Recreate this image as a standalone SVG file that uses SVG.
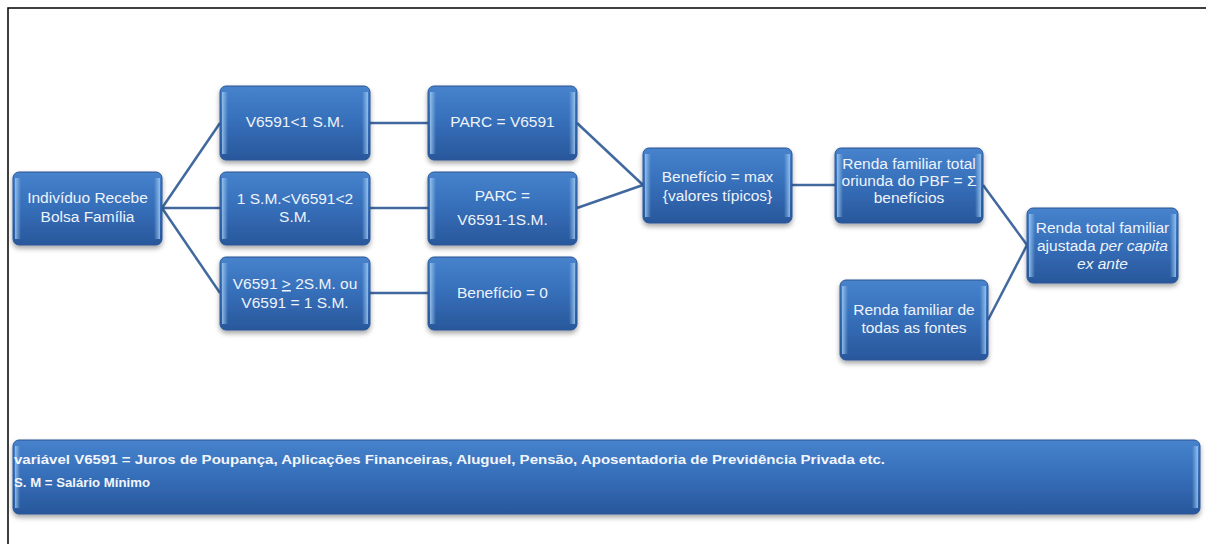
<svg xmlns="http://www.w3.org/2000/svg" width="1206" height="544" viewBox="0 0 1206 544">
<defs>
<linearGradient id="gv" x1="0" y1="0" x2="0" y2="1">
<stop offset="0" stop-color="#4783cc"/>
<stop offset="0.45" stop-color="#3770bb"/>
<stop offset="1" stop-color="#28579b"/>
</linearGradient>
<linearGradient id="el" x1="0" y1="0" x2="1" y2="0">
<stop offset="0" stop-color="#9fcaf2" stop-opacity="0.85"/>
<stop offset="1" stop-color="#9fcaf2" stop-opacity="0"/>
</linearGradient>
<linearGradient id="er" x1="1" y1="0" x2="0" y2="0">
<stop offset="0" stop-color="#9fcaf2" stop-opacity="0.85"/>
<stop offset="1" stop-color="#9fcaf2" stop-opacity="0"/>
</linearGradient>
<filter id="sh" x="-10%" y="-10%" width="120%" height="130%">
<feDropShadow dx="0" dy="3" stdDeviation="2.5" flood-color="#000" flood-opacity="0.35"/>
</filter>
<style>
.box{fill:url(#gv);stroke:#2a5594;stroke-width:1;filter:url(#sh)}
.bl{fill:url(#el)}
.br{fill:url(#er)}
.t{font-family:"Liberation Sans",Arial,sans-serif;font-size:15.5px;fill:#eef3fb;text-anchor:middle}
.b{font-family:"Liberation Sans",Arial,sans-serif;font-size:13px;font-weight:bold;fill:#f2f6fc}
.con line{stroke:#41699f;stroke-width:2.5}
</style>
</defs>
<rect width="1206" height="544" fill="#ffffff"/>
<path d="M8,544 V8 H1206" fill="none" stroke="#000" stroke-width="1.5"/>

<g class="con">
<line x1="162" y1="208" x2="220" y2="123"/>
<line x1="162" y1="208" x2="220" y2="208"/>
<line x1="162" y1="208" x2="220" y2="293"/>
<line x1="370" y1="123" x2="428" y2="123"/>
<line x1="370" y1="208" x2="428" y2="208"/>
<line x1="370" y1="293" x2="428" y2="293"/>
<line x1="577" y1="123" x2="643" y2="185"/>
<line x1="577" y1="208" x2="643" y2="185"/>
<line x1="792" y1="185" x2="835" y2="185"/>
<line x1="983" y1="185" x2="1027" y2="245"/>
<line x1="988" y1="320" x2="1027" y2="245"/>
</g>

<g id="n1"><rect class="box" x="13" y="172" width="149" height="73" rx="6"/><rect class="bl" x="15" y="178" width="6" height="61"/><rect class="br" x="154" y="178" width="6" height="61"/>
<text class="t" x="87.5" y="203">Indivíduo Recebe</text><text class="t" x="87.5" y="222">Bolsa Família</text></g>

<g id="n2"><rect class="box" x="220" y="86" width="150" height="74" rx="6"/><rect class="bl" x="222" y="92" width="6" height="62"/><rect class="br" x="362" y="92" width="6" height="62"/>
<text class="t" x="295" y="127">V6591&lt;1 S.M.</text></g>

<g id="n3"><rect class="box" x="220" y="172" width="150" height="73" rx="6"/><rect class="bl" x="222" y="178" width="6" height="61"/><rect class="br" x="362" y="178" width="6" height="61"/>
<text class="t" x="295" y="204">1 S.M.&lt;V6591&lt;2</text><text class="t" x="295" y="222">S.M.</text></g>

<g id="n4"><rect class="box" x="220" y="257" width="150" height="73" rx="6"/><rect class="bl" x="222" y="263" width="6" height="61"/><rect class="br" x="362" y="263" width="6" height="61"/>
<text class="t" x="295" y="289">V6591 <tspan text-decoration="underline">&gt;</tspan> 2S.M. ou</text><text class="t" x="295" y="308">V6591 = 1 S.M.</text></g>

<g id="n5"><rect class="box" x="428" y="86" width="149" height="74" rx="6"/><rect class="bl" x="430" y="92" width="6" height="62"/><rect class="br" x="569" y="92" width="6" height="62"/>
<text class="t" x="502.5" y="127">PARC = V6591</text></g>

<g id="n6"><rect class="box" x="428" y="172" width="149" height="73" rx="6"/><rect class="bl" x="430" y="178" width="6" height="61"/><rect class="br" x="569" y="178" width="6" height="61"/>
<text class="t" x="502.5" y="201">PARC =</text><text class="t" x="502.5" y="225">V6591-1S.M.</text></g>

<g id="n7"><rect class="box" x="428" y="257" width="149" height="73" rx="6"/><rect class="bl" x="430" y="263" width="6" height="61"/><rect class="br" x="569" y="263" width="6" height="61"/>
<text class="t" x="502.5" y="298">Benefício = 0</text></g>

<g id="n8"><rect class="box" x="643" y="148" width="149" height="75" rx="6"/><rect class="bl" x="645" y="154" width="6" height="63"/><rect class="br" x="784" y="154" width="6" height="63"/>
<text class="t" x="717.5" y="182">Benefício = max</text><text class="t" x="717.5" y="201">{valores típicos}</text></g>

<g id="n9"><rect class="box" x="835" y="148" width="148" height="75" rx="6"/><rect class="bl" x="837" y="154" width="6" height="63"/><rect class="br" x="975" y="154" width="6" height="63"/>
<text class="t" x="909" y="169">Renda familiar total</text><text class="t" x="909" y="186">oriunda do PBF = Σ</text><text class="t" x="909" y="203">benefícios</text></g>

<g id="n10"><rect class="box" x="1027" y="208" width="151" height="75" rx="6"/><rect class="bl" x="1029" y="214" width="6" height="63"/><rect class="br" x="1170" y="214" width="6" height="63"/>
<text class="t" x="1102.5" y="233">Renda total familiar</text><text class="t" x="1102.5" y="251">ajustada <tspan font-style="italic">per capita</tspan></text><text class="t" x="1102.5" y="269" font-style="italic">ex ante</text></g>

<g id="n11"><rect class="box" x="840" y="280" width="148" height="80" rx="6"/><rect class="bl" x="842" y="286" width="6" height="68"/><rect class="br" x="980" y="286" width="6" height="68"/>
<text class="t" x="914" y="315">Renda familiar de</text><text class="t" x="914" y="333">todas as fontes</text></g>

<g id="legend"><rect class="box" x="13" y="440" width="1187" height="74" rx="6"/><rect class="bl" x="15" y="446" width="5" height="62"/><rect class="br" x="1192" y="446" width="6" height="62"/>
<text class="b" x="14" y="464" textLength="871" lengthAdjust="spacingAndGlyphs">variável V6591 = Juros de Poupança,  Aplicações Financeiras, Aluguel, Pensão, Aposentadoria  de Previdência Privada etc.</text>
<text class="b" x="14" y="487" textLength="136" lengthAdjust="spacingAndGlyphs">S. M = Salário Mínimo</text></g>
</svg>
